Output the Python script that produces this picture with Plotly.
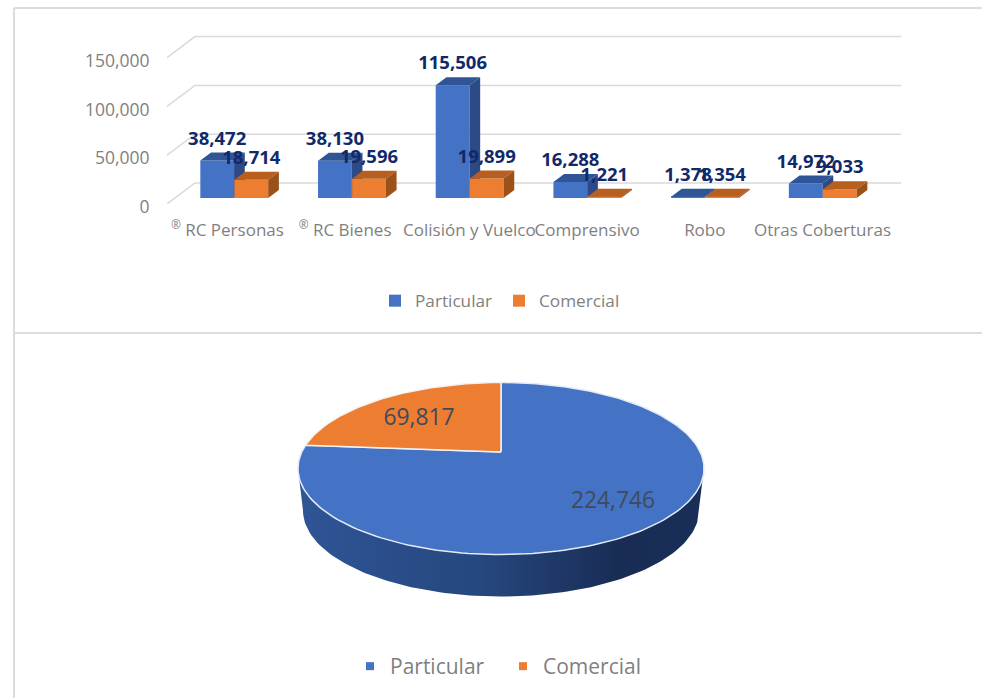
import math
import plotly.graph_objects as go

NB = "\u00a0"
categories = ["<sup>®</sup> RC Personas" + NB * 3, "<sup>®</sup> RC Bienes" + NB * 3, "Colisión y Vuelco", "Comprensivo", "Robo", "Otras Coberturas"]
particular = [38472, 38130, 115506, 16288, 1378, 14972]
comercial = [18714, 19596, 19899, 1221, 1354, 9033]
y_ticks = [0, 50000, 100000, 150000]
pie_names = ["Particular", "Comercial"]
pie_values = [224746, 69817]

W, H = 982, 698
FONT = "Open Sans"
BLUE, BLUE_TOP, BLUE_SIDE = "#4472c4", "#2f5597", "#2c4a86"
ORANGE, ORANGE_TOP, ORANGE_SIDE = "#ed7d31", "#b85f1f", "#9c5119"
GRID = "#d9d9d9"
AX_TEXT = "#7f7f7f"
LABEL = "#10296a"

# scale of the bar panel: pixels per category and data units per pixel
CAT_PX = 117.7
UNIT_PX = 1000 / 0.976
X0 = (167 - 234) / CAT_PX
X1 = (901 - 234) / CAT_PX
Y1 = 174 * UNIT_PX
BAR_W = 33.75 / CAT_PX
BASE = 6 * UNIT_PX
DX, DY = 10.7 / CAT_PX, 8 * UNIT_PX
WALL_DX, WALL_DY = 28 / CAT_PX, 21 * UNIT_PX
SHIFT = (-16.8 / CAT_PX, 17.3 / CAT_PX)
LABEL_UP = 20.5 * UNIT_PX

xdom = [167 / W, 901 / W]
ydom = [1 - 204 / H, 1 - 30 / H]
idx = list(range(len(categories)))

fig = go.Figure()

frame = dict(type="line", xref="paper", yref="paper", line=dict(color="#dcdcdc", width=2), layer="below")
shapes = [
    dict(frame, x0=14 / W, x1=14 / W, y0=0, y1=1 - 8 / H),
    dict(frame, x0=14 / W, x1=1, y0=1 - 8 / H, y1=1 - 8 / H),
    dict(frame, x0=14 / W, x1=1, y0=1 - 333 / H, y1=1 - 333 / H),
]
# back-wall gridlines, beneath the bars
grid = dict(type="path", xref="x", yref="y", line=dict(color=GRID, width=1.5), layer="below")
for t in y_ticks:
    shapes.append(dict(grid, path=f"M{X0},{t} L{X0 + WALL_DX},{t + WALL_DY} L{X1},{t + WALL_DY}"))


def faces(values, shift):
    tx, ty, sx, sy = [], [], [], []
    for i, v in zip(idx, values):
        a = i + shift - BAR_W / 2
        b = i + shift + BAR_W / 2
        top = BASE + v
        tx += [a, b, b + DX, a + DX, a, None]
        ty += [top, top, top + DY, top + DY, top, None]
        sx += [b, b + DX, b + DX, b, b, None]
        sy += [BASE, BASE + DY, top + DY, top, BASE, None]
    return tx, ty, sx, sy


def add_series(name, values, shift, front, top_c, side_c, xa, ya):
    fig.add_trace(go.Bar(x=[i + shift for i in idx], y=values, base=BASE, width=BAR_W, name=name,
                         marker=dict(color=front, line=dict(width=0)), xaxis=xa, yaxis=ya,
                         legend="legend", hoverinfo="skip"))
    tx, ty, sx, sy = faces(values, shift)
    for fx, fy, c in ((tx, ty, top_c), (sx, sy, side_c)):
        fig.add_trace(go.Scatter(x=fx, y=fy, mode="lines", fill="toself", fillcolor=c,
                                 line=dict(width=0, color=c), xaxis=xa, yaxis=ya,
                                 showlegend=False, hoverinfo="skip"))


add_series("Particular", particular, SHIFT[0], BLUE, BLUE_TOP, BLUE_SIDE, "x", "y")

# ---- pie, on a pixel-scaled helper axis pair ----
CX, CY, RX, RY = 501, 468.5, 203, 86
VERTEX_UP = 16.5
DEPTH = 42
K = VERTEX_UP / RY
CU = RX * math.sqrt(1 - K * K)


def project(a):
    """a: clockwise angle from the top, radians"""
    u, v = math.sin(a), math.cos(a)
    d = 1 + K * v
    return CX + CU * u / d, CY - (RY * v + VERTEX_UP) / d


total = sum(pie_values)
span = 2 * math.pi * pie_values[0] / total
steps = 240
vx, vy = CX, CY - VERTEX_UP


def wedge(a0, a1):
    n = max(4, int(steps * abs(a1 - a0) / (2 * math.pi)))
    pts = [project(a0 + (a1 - a0) * j / n) for j in range(n + 1)]
    return [vx] + [p[0] for p in pts] + [vx], [vy] + [p[1] for p in pts] + [vy]


# extruded rim
rim_x, rim_y = [], []
n = 120
for j in range(n + 1):
    t = math.pi * j / n
    rim_x.append(CX - RX * math.cos(t))
    rim_y.append(CY + RY * math.sin(t))
for j in range(n + 1):
    t = math.pi * (1 - j / n)
    rim_x.append(CX - (RX - 5) * math.cos(t))
    rim_y.append(CY + DEPTH + RY * math.sin(t))
fig.add_trace(go.Scatter(x=rim_x, y=rim_y, mode="lines", fill="toself", xaxis="x2", yaxis="y2",
                         line=dict(width=0, color="#22406f"),
                         fillgradient=dict(type="horizontal", colorscale=[[0, "#2f5596"], [0.45, "#26477f"], [0.8, "#182c54"], [1, "#1a2f58"]]),
                         showlegend=False, hoverinfo="skip"))

wx, wy = wedge(0, span)
fig.add_trace(go.Scatter(x=wx, y=wy, mode="lines", fill="toself", fillcolor=BLUE, xaxis="x2", yaxis="y2",
                         line=dict(width=1.5, color="#e4ebf5"), showlegend=False, hoverinfo="skip"))
wx, wy = wedge(span, 2 * math.pi)
fig.add_trace(go.Scatter(x=wx, y=wy, mode="lines", fill="toself", fillcolor=ORANGE, xaxis="x2", yaxis="y2",
                         line=dict(width=1.5, color="#f2f2f2"), showlegend=False, hoverinfo="skip"))
fig.add_trace(go.Scatter(x=[613, 419], y=[502.7, 419], mode="text",
                         text=[f"{v:,}" for v in pie_values], xaxis="x2", yaxis="y2",
                         textfont=dict(family=FONT, size=22.8, color="#404a5c"),
                         showlegend=False, hoverinfo="skip"))
for name, c in zip(pie_names, (BLUE, ORANGE)):
    fig.add_trace(go.Scatter(x=[None], y=[None], mode="markers", name=name, xaxis="x2", yaxis="y2",
                             marker=dict(symbol="square", size=8, color=c), legend="legend2", hoverinfo="skip"))

add_series("Comercial", comercial, SHIFT[1], ORANGE, ORANGE_TOP, ORANGE_SIDE, "x3", "y3")

# data labels
lx = [i + SHIFT[0] for i in idx] + [i + SHIFT[1] for i in idx]
ly = [BASE + v + LABEL_UP for v in particular] + [BASE + v + LABEL_UP for v in comercial]
lt = [f"{v:,}" for v in particular + comercial]
fig.add_trace(go.Scatter(x=lx, y=ly, text=lt, mode="text", xaxis="x3", yaxis="y3",
                         textfont=dict(family=FONT, size=18.5, color=LABEL, weight="bold"),
                         showlegend=False, hoverinfo="skip", cliponaxis=False))

fig.update_layout(
    width=W, height=H, autosize=False,
    margin=dict(l=0, r=0, t=0, b=0, autoexpand=False),
    paper_bgcolor="white", plot_bgcolor="rgba(0,0,0,0)",
    showlegend=True, barmode="overlay", shapes=shapes,
    xaxis=dict(domain=xdom, range=[X0, X1], tickmode="array", tickvals=idx, ticktext=categories,
               tickangle=0, ticks="outside", ticklen=11, tickcolor="rgba(0,0,0,0)", showgrid=False,
               zeroline=False, showline=False, fixedrange=True,
               tickfont=dict(family=FONT, size=17, color=AX_TEXT)),
    yaxis=dict(domain=ydom, range=[0, Y1], tickmode="array", tickvals=y_ticks, tickformat=",",
               ticks="outside", ticklen=13, tickcolor="rgba(0,0,0,0)", showgrid=False,
               ticklabelshift=3,
               zeroline=False, showline=False, fixedrange=True,
               tickfont=dict(family=FONT, size=17.5, color=AX_TEXT)),
    xaxis3=dict(overlaying="x", matches="x", visible=False),
    yaxis3=dict(overlaying="y", matches="y", visible=False),
    xaxis2=dict(domain=[0, 1], range=[0, W], visible=False, fixedrange=True, anchor="y2"),
    yaxis2=dict(domain=[0, 1], range=[H, 0], visible=False, fixedrange=True, anchor="x2"),
    legend=dict(orientation="h", x=375 / W, y=1 - 319 / H, xanchor="left", yanchor="bottom",
                bgcolor="rgba(0,0,0,0)", font=dict(family=FONT, size=17.2, color=AX_TEXT),
                entrywidth=79, entrywidthmode="pixels",
                itemclick=False, itemdoubleclick=False),
    legend2=dict(orientation="h", x=350 / W, y=1 - 687 / H, xanchor="left", yanchor="bottom",
                 bgcolor="rgba(0,0,0,0)", font=dict(family=FONT, size=21, color=AX_TEXT),
                 entrywidth=108, entrywidthmode="pixels",
                 itemclick=False, itemdoubleclick=False),
)

fig.write_html("out.html", config=dict(displayModeBar=False),
               post_script="document.body.style.margin='0';document.documentElement.style.overflow='hidden';")
